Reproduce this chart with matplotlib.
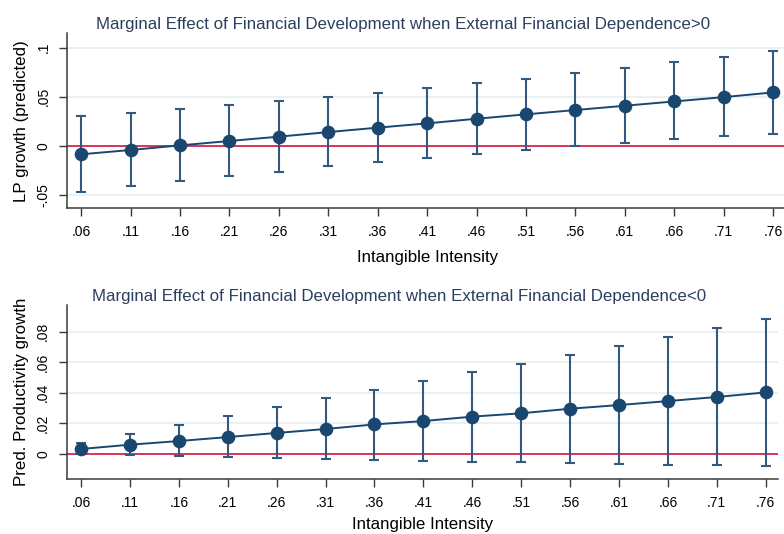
import matplotlib
matplotlib.use("Agg")
import matplotlib.pyplot as plt

# intangible intensity grid used in the margins plot
x_vals = [0.06, 0.11, 0.16, 0.21, 0.26, 0.31, 0.36, 0.41, 0.46, 0.51, 0.56, 0.61, 0.66, 0.71, 0.76]
x_labels = [".06", ".11", ".16", ".21", ".26", ".31", ".36", ".41", ".46", ".51", ".56", ".61", ".66", ".71", ".76"]

# top panel: external financial dependence > 0
pos_mean = [-0.0088, -0.0044, 0.0003, 0.0048, 0.0092, 0.0139, 0.0184, 0.0228, 0.0275, 0.0320,
            0.0364, 0.0408, 0.0452, 0.0496, 0.0544]
pos_hi = [0.0303, 0.0337, 0.0374, 0.0411, 0.0456, 0.0493, 0.0537, 0.0585, 0.0636, 0.0683,
          0.0741, 0.0792, 0.0850, 0.0904, 0.0962]
pos_lo = [-0.0470, -0.0411, -0.0364, -0.0310, -0.0265, -0.0210, -0.0170, -0.0122, -0.0085, -0.0044,
          -0.0007, 0.0024, 0.0065, 0.0095, 0.0122]
pos_yticks = [-0.05, 0, 0.05, 0.1]
pos_ylabels = ["-.05", "0", ".05", ".1"]

# bottom panel: external financial dependence < 0
neg_mean = [0.0031, 0.0059, 0.0083, 0.0109, 0.0136, 0.0162, 0.0192, 0.0214, 0.0243, 0.0265,
            0.0295, 0.0319, 0.0345, 0.0372, 0.0402]
neg_hi = [0.0068, 0.0129, 0.0186, 0.0247, 0.0306, 0.0363, 0.0418, 0.0479, 0.0536, 0.0590,
          0.0649, 0.0706, 0.0765, 0.0822, 0.0881]
neg_lo = [-0.0002, -0.0011, -0.0017, -0.0024, -0.0031, -0.0037, -0.0044, -0.0048, -0.0052, -0.0057,
          -0.0061, -0.0068, -0.0072, -0.0077, -0.0083]
neg_yticks = [0, 0.02, 0.04, 0.06, 0.08]
neg_ylabels = ["0", ".02", ".04", ".06", ".08"]

navy = "#1a476f"
ci_col = "#34597f"
red = "#d9254f"
grid_col = "#e6eff1"
title_col = "#2b3f5c"

plt.rcParams["font.family"] = ["Liberation Sans", "DejaVu Sans"]

fig = plt.figure(figsize=(7.84, 5.34), dpi=100)
ax1 = fig.add_axes([0.0855, 0.610, 0.9185, 0.3275])
ax2 = fig.add_axes([0.0851, 0.1024, 0.9073, 0.3264])


def draw(ax, mean, lo, hi, yticks, ylabels, ylim, xlim, ylabel, title, xpad):
    ax.axhline(0, color=red, lw=1.3, zorder=2)
    yerr = [[m - l for m, l in zip(mean, lo)], [h - m for m, h in zip(mean, hi)]]
    ax.errorbar(x_vals, mean, yerr=yerr, fmt="none", ecolor=ci_col, elinewidth=1.5,
                capsize=3.9, capthick=1.5, zorder=3)
    ax.plot(x_vals, mean, color=navy, lw=1.4, marker="o", ms=8.8, mfc=navy, mec=navy, zorder=4)
    ax.set_xlim(xlim)
    ax.set_ylim(ylim)
    ax.set_xticks(x_vals)
    ax.set_xticklabels(x_labels, fontsize=10)
    ax.set_yticks(yticks)
    ax.set_yticklabels(ylabels, fontsize=10, rotation=90, va="center")
    ax.yaxis.grid(True, color=grid_col, lw=1.2)
    ax.set_axisbelow(True)
    for s in ["top", "right"]:
        ax.spines[s].set_visible(False)
    for s in ["left", "bottom"]:
        ax.spines[s].set_color("#3a3a3a")
        ax.spines[s].set_linewidth(1.1)
    ax.tick_params(direction="out", length=6, width=1.0, color="#3a3a3a", pad=6)
    ax.set_ylabel(ylabel, fontsize=12.2, labelpad=5)
    ax.set_xlabel("Intangible Intensity", fontsize=12.2, labelpad=xpad)
    ax.set_title(title, fontsize=12.2, color=title_col, x=0.467, pad=3)


draw(ax1, pos_mean, pos_lo, pos_hi, pos_yticks, pos_ylabels, (-0.0639, 0.1147), (0.0458, 0.7742),
     "LP growth (predicted)",
     "Marginal Effect of Financial Development when External Financial Dependence>0", 8)
draw(ax2, neg_mean, neg_lo, neg_hi, neg_yticks, neg_ylabels, (-0.0168, 0.0975), (0.0454, 0.7726),
     "Pred. Productivity growth",
     "Marginal Effect of Financial Development when External Financial Dependence<0", 5)

fig.savefig("out.png", dpi=100)
